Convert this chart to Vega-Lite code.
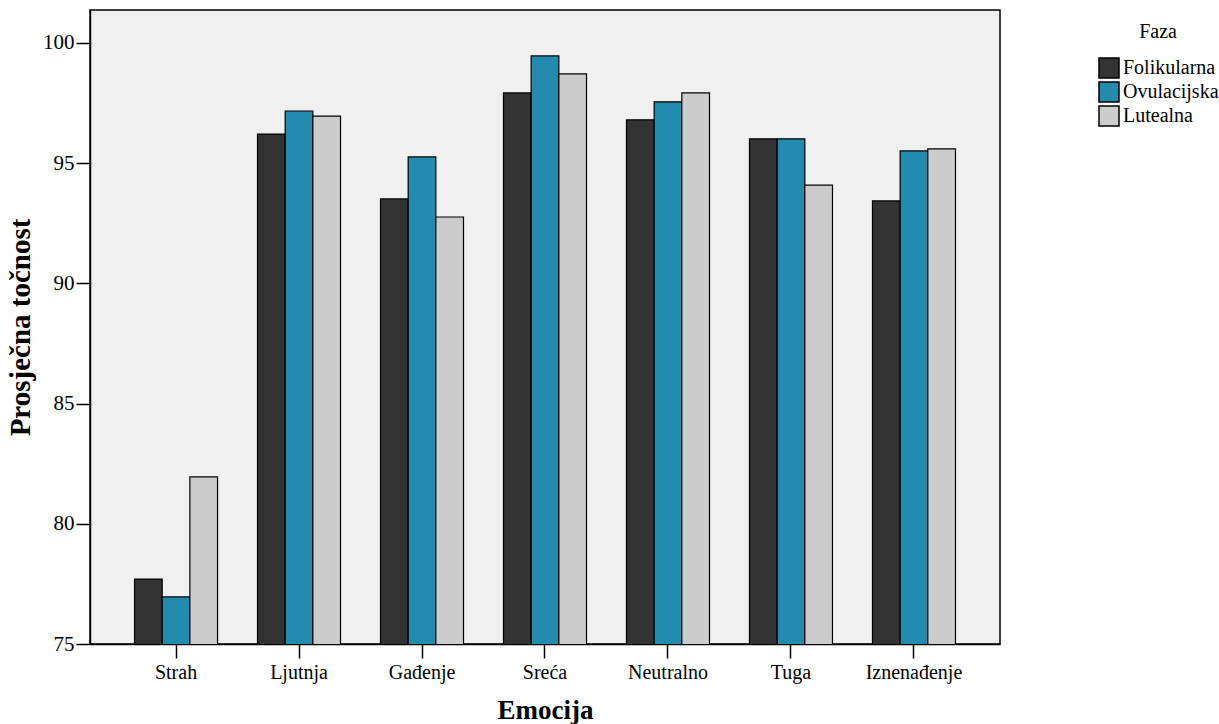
{
  "$schema": "https://vega.github.io/schema/vega-lite/v6.json",
  "width": 910,
  "height": 634,
  "autosize": {"type": "none"},
  "padding": {"left": 90, "top": 10, "right": 219, "bottom": 80},
  "background": "white",
  "config": {
    "font": "Liberation Serif",
    "view": {"fill": "#f0f0f0", "stroke": "black", "strokeWidth": 1.5}
  },
  "data": {
    "values": [
      {"Emocija": "Strah", "Faza": "Folikularna", "v": 77.70},
      {"Emocija": "Strah", "Faza": "Ovulacijska", "v": 76.96},
      {"Emocija": "Strah", "Faza": "Lutealna", "v": 81.95},
      {"Emocija": "Ljutnja", "Faza": "Folikularna", "v": 96.21},
      {"Emocija": "Ljutnja", "Faza": "Ovulacijska", "v": 97.17},
      {"Emocija": "Ljutnja", "Faza": "Lutealna", "v": 96.96},
      {"Emocija": "Gađenje", "Faza": "Folikularna", "v": 93.51},
      {"Emocija": "Gađenje", "Faza": "Ovulacijska", "v": 95.26},
      {"Emocija": "Gađenje", "Faza": "Lutealna", "v": 92.76},
      {"Emocija": "Sreća", "Faza": "Folikularna", "v": 97.92},
      {"Emocija": "Sreća", "Faza": "Ovulacijska", "v": 99.46},
      {"Emocija": "Sreća", "Faza": "Lutealna", "v": 98.71},
      {"Emocija": "Neutralno", "Faza": "Folikularna", "v": 96.80},
      {"Emocija": "Neutralno", "Faza": "Ovulacijska", "v": 97.55},
      {"Emocija": "Neutralno", "Faza": "Lutealna", "v": 97.92},
      {"Emocija": "Tuga", "Faza": "Folikularna", "v": 96.01},
      {"Emocija": "Tuga", "Faza": "Ovulacijska", "v": 96.01},
      {"Emocija": "Tuga", "Faza": "Lutealna", "v": 94.09},
      {"Emocija": "Iznenađenje", "Faza": "Folikularna", "v": 93.43},
      {"Emocija": "Iznenađenje", "Faza": "Ovulacijska", "v": 95.51},
      {"Emocija": "Iznenađenje", "Faza": "Lutealna", "v": 95.59}
    ]
  },
  "mark": {"type": "bar", "stroke": "black", "strokeWidth": 1.2, "clip": true},
  "encoding": {
    "x": {
      "field": "Emocija",
      "type": "nominal",
      "sort": ["Strah", "Ljutnja", "Gađenje", "Sreća", "Neutralno", "Tuga", "Iznenađenje"],
      "scale": {"paddingInner": 0.325, "paddingOuter": 0.362},
      "axis": {
        "title": "Emocija",
        "titleFont": "Liberation Serif",
        "titleFontSize": 27,
        "titleFontWeight": "bold",
        "titleColor": "black",
        "titlePadding": 15,
        "labelAngle": 0,
        "labelFontSize": 20,
        "labelColor": "black",
        "labelPadding": 4,
        "tickSize": 14,
        "tickColor": "black",
        "tickWidth": 1.5,
        "domainColor": "black",
        "domainWidth": 1.5
      }
    },
    "xOffset": {
      "field": "Faza",
      "type": "nominal",
      "sort": ["Folikularna", "Ovulacijska", "Lutealna"],
      "scale": {"paddingInner": 0, "paddingOuter": 0}
    },
    "y": {
      "field": "v",
      "type": "quantitative",
      "scale": {"domain": [75, 101.37], "nice": false, "zero": false},
      "axis": {
        "title": "Prosječna točnost",
        "titleFont": "Liberation Serif",
        "titleFontSize": 29,
        "titleFontWeight": "bold",
        "titleColor": "black",
        "titlePadding": 7,
        "values": [75, 80, 85, 90, 95, 100],
        "grid": false,
        "labelFontSize": 21,
        "labelColor": "black",
        "labelPadding": 2,
        "tickSize": 14,
        "tickColor": "black",
        "tickWidth": 1.5,
        "domainColor": "black",
        "domainWidth": 1.5
      }
    },
    "fill": {
      "field": "Faza",
      "type": "nominal",
      "sort": ["Folikularna", "Ovulacijska", "Lutealna"],
      "scale": {"domain": ["Folikularna", "Ovulacijska", "Lutealna"], "range": ["#333333", "#238bad", "#cccccc"]},
      "legend": {
        "orient": "none",
        "legendX": 1008,
        "legendY": 12,
        "title": "Faza",
        "titleFontSize": 20,
        "titleFontWeight": "normal",
        "titleColor": "black",
        "titleAnchor": "middle",
        "titlePadding": 15,
        "labelFontSize": 20,
        "labelColor": "black",
        "labelOffset": 3,
        "symbolType": "square",
        "symbolSize": 400,
        "symbolStrokeColor": "black",
        "symbolStrokeWidth": 1.5,
        "rowPadding": -2
      }
    }
  }
}
